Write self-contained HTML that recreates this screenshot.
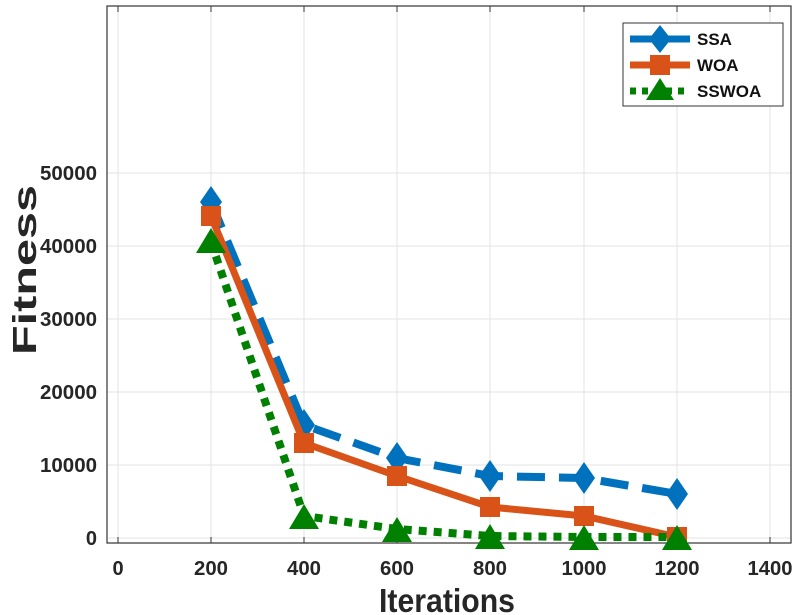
<!DOCTYPE html><html><head><style>body{margin:0;background:#fff}svg{display:block}</style></head><body>
<svg width="800" height="615" xmlns="http://www.w3.org/2000/svg" font-family="Liberation Sans, sans-serif" font-weight="bold">
<rect x="0" y="0" width="800" height="615" fill="#fff"/>
<g stroke="#e3e3e3" stroke-width="1">
<line x1="118" y1="6" x2="118" y2="543"/><line x1="211" y1="6" x2="211" y2="543"/><line x1="304" y1="6" x2="304" y2="543"/><line x1="397" y1="6" x2="397" y2="543"/><line x1="490" y1="6" x2="490" y2="543"/><line x1="584" y1="6" x2="584" y2="543"/><line x1="677" y1="6" x2="677" y2="543"/><line x1="770" y1="6" x2="770" y2="543"/>
<line x1="107" y1="538" x2="791" y2="538"/><line x1="107" y1="465" x2="791" y2="465"/><line x1="107" y1="392" x2="791" y2="392"/><line x1="107" y1="319" x2="791" y2="319"/><line x1="107" y1="246" x2="791" y2="246"/><line x1="107" y1="173" x2="791" y2="173"/>
</g>
<rect x="107" y="6" width="684" height="537" fill="none" stroke="#333" stroke-width="1.2"/>
<g stroke="#333" stroke-width="1">
<line x1="118" y1="543" x2="118" y2="537"/><line x1="211" y1="543" x2="211" y2="537"/><line x1="304" y1="543" x2="304" y2="537"/><line x1="397" y1="543" x2="397" y2="537"/><line x1="490" y1="543" x2="490" y2="537"/><line x1="584" y1="543" x2="584" y2="537"/><line x1="677" y1="543" x2="677" y2="537"/><line x1="770" y1="543" x2="770" y2="537"/>
<line x1="118" y1="6" x2="118" y2="12"/><line x1="211" y1="6" x2="211" y2="12"/><line x1="304" y1="6" x2="304" y2="12"/><line x1="397" y1="6" x2="397" y2="12"/><line x1="490" y1="6" x2="490" y2="12"/><line x1="584" y1="6" x2="584" y2="12"/><line x1="677" y1="6" x2="677" y2="12"/><line x1="770" y1="6" x2="770" y2="12"/>
</g>
<g font-size="20" fill="#262626" text-anchor="middle" lengthAdjust="spacingAndGlyphs">
<text x="118" y="575">0</text>
<text x="211" y="575" textLength="34" lengthAdjust="spacingAndGlyphs">200</text>
<text x="304" y="575" textLength="34" lengthAdjust="spacingAndGlyphs">400</text>
<text x="397" y="575" textLength="34" lengthAdjust="spacingAndGlyphs">600</text>
<text x="490" y="575" textLength="34" lengthAdjust="spacingAndGlyphs">800</text>
<text x="584" y="575" textLength="45" lengthAdjust="spacingAndGlyphs">1000</text>
<text x="677" y="575" textLength="45" lengthAdjust="spacingAndGlyphs">1200</text>
<text x="770" y="575" textLength="45" lengthAdjust="spacingAndGlyphs">1400</text>
</g>
<g font-size="20" fill="#262626" text-anchor="end">
<text x="97" y="545">0</text>
<text x="97" y="472" textLength="57" lengthAdjust="spacingAndGlyphs">10000</text>
<text x="97" y="399" textLength="57" lengthAdjust="spacingAndGlyphs">20000</text>
<text x="97" y="326" textLength="57" lengthAdjust="spacingAndGlyphs">30000</text>
<text x="97" y="253" textLength="57" lengthAdjust="spacingAndGlyphs">40000</text>
<text x="97" y="180" textLength="57" lengthAdjust="spacingAndGlyphs">50000</text>
</g>
<text x="447" y="612" font-size="33" text-anchor="middle" fill="#262626" textLength="136" lengthAdjust="spacingAndGlyphs">Iterations</text>
<text transform="translate(36,270) rotate(-90)" font-size="33" text-anchor="middle" fill="#262626" textLength="170" lengthAdjust="spacingAndGlyphs">Fitness</text>
<!-- SSA -->
<polyline points="211,202 304,425 397,458 490,476 584,478 677,494" fill="none" stroke="#0072BD" stroke-width="8" stroke-dasharray="28,14"/>
<g fill="#0072BD">
<path d="M211,186 l11,16 l-11,16 l-11,-16z"/><path d="M304,409 l11,16 l-11,16 l-11,-16z"/><path d="M397,442 l11,16 l-11,16 l-11,-16z"/><path d="M490,460 l11,16 l-11,16 l-11,-16z"/><path d="M584,462 l11,16 l-11,16 l-11,-16z"/><path d="M677,478 l11,16 l-11,16 l-11,-16z"/>
</g>
<!-- WOA -->
<polyline points="211,216 304,443 397,476 490,507 584,516 677,537" fill="none" stroke="#D95319" stroke-width="7"/>
<g fill="#D95319">
<rect x="201" y="206" width="20" height="20"/><rect x="294" y="433" width="20" height="20"/><rect x="387" y="466" width="20" height="20"/><rect x="480" y="497" width="20" height="20"/><rect x="574" y="506" width="20" height="20"/><rect x="667" y="527" width="20" height="20"/>
</g>
<!-- SSWOA -->
<polyline points="211,242 304,516 397,529 490,536 584,537 677,537" fill="none" stroke="#008000" stroke-width="8" stroke-dasharray="8,7"/>
<g fill="#008000">
<path d="M211,228 l15,25 h-30z"/><path d="M304,504 l15,25 h-30z"/><path d="M397,517 l15,25 h-30z"/><path d="M490,524 l15,25 h-30z"/><path d="M584,525 l15,25 h-30z"/><path d="M677,525 l15,25 h-30z"/>
</g>
<!-- legend -->
<rect x="623" y="23" width="160" height="83" fill="#fff" stroke="#333" stroke-width="1"/>
<line x1="630" y1="39" x2="690" y2="39" stroke="#0072BD" stroke-width="7" stroke-dasharray="28,10"/>
<path d="M660,25 l11,14 l-11,14 l-11,-14z" fill="#0072BD"/>
<line x1="630" y1="65" x2="690" y2="65" stroke="#D95319" stroke-width="7"/>
<rect x="650" y="55" width="20" height="20" fill="#D95319"/>
<line x1="630" y1="91" x2="690" y2="91" stroke="#008000" stroke-width="7" stroke-dasharray="6,6"/>
<path d="M660,78 l14,22 h-28z" fill="#008000"/>
<g font-size="17" fill="#111">
<text x="697" y="45">SSA</text><text x="697" y="71">WOA</text><text x="697" y="97">SSWOA</text>
</g>
</svg>
</body></html>
